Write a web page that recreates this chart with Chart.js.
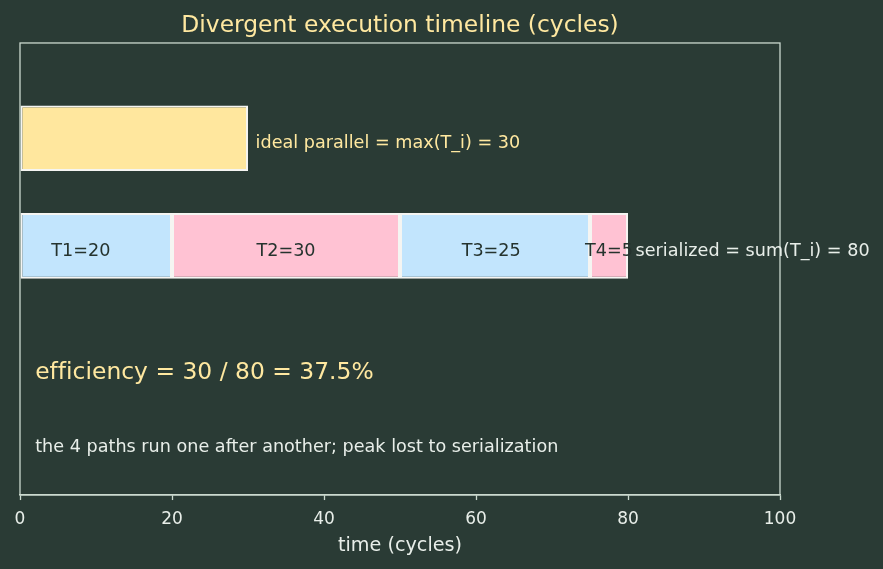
<!DOCTYPE html>
<html>
<head>
<meta charset="utf-8">
<script src="https://cdn.jsdelivr.net/npm/chart.js@4/dist/chart.umd.min.js"></script>
<style>
  html, body { margin: 0; padding: 0; background: #2a3b35; }
  #wrap { width: 883px; height: 569px; }
</style>
</head>
<body>
<div id="wrap"><canvas id="c" width="883" height="569"></canvas></div>
<script>
// ---- data ----
const pathLabels = ['T1', 'T2', 'T3', 'T4'];
const pathCycles = [20, 30, 25, 5];
const idealCycles = 30;
const rowNames = ['ideal parallel', 'serialized'];
const rowPositions = [1, 0];
const xTickValues = [0, 20, 40, 60, 80, 100];

// ---- layout / styling (not data) ----
const pathLabelCenters = [8, 35, 62, 77.5];
const BG = '#2a3b35';
const FRAME = '#cbd9cf';
const LIGHT = '#e8eee9';
const YELLOW = '#ffe8a0';
const DARK = '#25332e';
const EDGE = '#f5f5f2';
const FONT = 'DejaVu Sans';
const pathColors = ['#c2e5fd', '#ffc2d3', '#c2e5fd', '#ffc2d3'];
const ROW_TEXT_DY = 5.5;

// serialized segments: one after another
const segStarts = [];
let acc = 0;
pathCycles.forEach(v => { segStarts.push(acc); acc += v; });
const serialTotal = acc;

const annotations = [
  { text: 'ideal parallel = max(T_i) = ' + idealCycles, x: idealCycles + 1, y: rowPositions[0], dy: ROW_TEXT_DY, color: YELLOW, size: 17.6 },
  { text: 'serialized = sum(T_i) = ' + serialTotal, x: serialTotal + 1, y: rowPositions[1], dy: ROW_TEXT_DY, color: LIGHT, size: 17.6 },
  { text: 'efficiency = ' + idealCycles + ' / ' + serialTotal + ' = ' + (idealCycles / serialTotal * 100).toFixed(1) + '%', x: 2, y: -1.18, dy: 0, color: YELLOW, size: 23.4 },
  { text: 'the 4 paths run one after another; peak lost to serialization', x: 2, y: -1.87, dy: 0, color: LIGHT, size: 17.6 }
];

const bgPlugin = {
  id: 'bg',
  beforeDraw(chart) {
    const ctx = chart.ctx;
    ctx.save();
    ctx.fillStyle = BG;
    ctx.fillRect(0, 0, chart.width, chart.height);
    ctx.restore();
  }
};

const framePlugin = {
  id: 'frame',
  afterDatasetsDraw(chart) {
    const { ctx, chartArea: a, scales } = chart;
    ctx.save();
    ctx.strokeStyle = FRAME;
    ctx.lineWidth = 1.3;
    ctx.strokeRect(a.left, a.top, a.right - a.left, a.bottom - a.top);
    try { ctx.letterSpacing = '0.01px'; } catch (e) {}
    // segment labels
    ctx.font = '17.6px "' + FONT + '"';
    ctx.fillStyle = DARK;
    ctx.textAlign = 'center';
    ctx.textBaseline = 'middle';
    pathLabels.forEach((lab, i) => {
      const cx = scales.x.getPixelForValue(pathLabelCenters[i]);
      const cy = scales.y.getPixelForValue(rowPositions[1]) + ROW_TEXT_DY;
      ctx.fillText(lab + '=' + pathCycles[i], cx, cy);
    });
    ctx.textAlign = 'left';
    annotations.forEach(an => {
      ctx.font = an.size + 'px "' + FONT + '"';
      ctx.fillStyle = an.color;
      ctx.fillText(an.text, scales.x.getPixelForValue(an.x), scales.y.getPixelForValue(an.y) + an.dy);
    });
    ctx.restore();
  }
};

new Chart(document.getElementById('c'), {
  type: 'bar',
  data: {
    datasets: [
      {
        label: rowNames[0],
        data: [{ x: [0, idealCycles], y: rowPositions[0] }],
        backgroundColor: '#ffe79e',
        borderColor: EDGE,
        borderWidth: 2,
        borderSkipped: false
      },
      {
        label: rowNames[1],
        data: pathCycles.map((v, i) => ({ x: [segStarts[i], segStarts[i] + v], y: rowPositions[1] })),
        backgroundColor: pathColors,
        borderColor: EDGE,
        borderWidth: 2,
        borderSkipped: false
      }
    ]
  },
  options: {
    indexAxis: 'y',
    responsive: false,
    animation: false,
    devicePixelRatio: 1,
    datasets: { bar: { grouped: false, categoryPercentage: 1, barPercentage: 0.61 } },
    layout: { padding: { left: 20, right: 103, top: 0, bottom: 15.2 } },
    plugins: {
      legend: { display: false },
      tooltip: { enabled: false },
      title: {
        display: true,
        text: 'Divergent execution timeline (cycles)',
        color: YELLOW,
        fullSize: false,
        font: { family: FONT, size: 23.4, weight: 'normal', lineHeight: 1.2 },
        padding: { top: 12, bottom: 2.9 }
      }
    },
    scales: {
      x: {
        type: 'linear',
        min: 0, max: 100,
        afterBuildTicks: (axis) => { axis.ticks = xTickValues.map(v => ({ value: v })); },
        grid: { display: true, drawOnChartArea: false, drawTicks: true, tickLength: 5, color: FRAME, tickWidth: 1.3 },
        border: { display: true, color: FRAME, width: 1.3 },
        ticks: { color: LIGHT, font: { family: FONT, size: 17 }, padding: 9 },
        title: { display: true, text: 'time (cycles)', color: LIGHT, font: { family: FONT, size: 19.2, lineHeight: 0.8 }, padding: { top: 0, bottom: 0 } }
      },
      y: {
        type: 'linear',
        min: -2.315, max: 1.885,
        display: false,
        afterBuildTicks: (axis) => { axis.ticks = []; }
      }
    }
  },
  plugins: [bgPlugin, framePlugin]
});
</script>
</body>
</html>
